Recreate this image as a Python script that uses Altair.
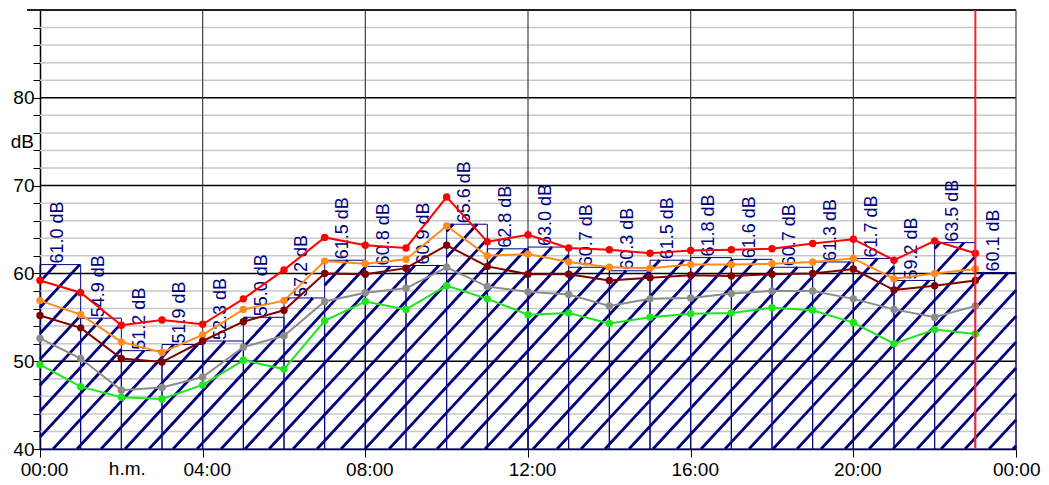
import altair as alt
import pandas as pd

# ---------------- data ----------------
hours = list(range(24))
bar_values = [61.0, 54.9, 51.2, 51.9, 52.3, 55.0, 57.2, 61.5, 60.8, 60.9, 65.6, 62.8,
              63.0, 60.7, 60.3, 61.5, 61.8, 61.6, 60.7, 61.3, 61.7, 59.2, 63.5, 60.1]
red = [59.2, 57.8, 54.1, 54.7, 54.2, 57.1, 60.4, 64.1, 63.2, 62.9, 68.7, 63.6,
       64.4, 62.9, 62.7, 62.3, 62.6, 62.7, 62.8, 63.4, 63.9, 61.5, 63.7, 62.3]
orange = [56.9, 55.3, 52.2, 51.0, 53.0, 55.9, 56.9, 61.4, 61.1, 61.6, 65.4, 62.0,
          62.2, 61.3, 60.7, 60.6, 61.0, 61.0, 61.1, 61.3, 61.7, 59.4, 60.0, 60.5]
darkred = [55.2, 53.8, 50.3, 49.9, 52.3, 54.5, 55.8, 60.0, 59.9, 60.6, 63.2, 60.8,
           59.9, 59.9, 59.2, 59.5, 59.8, 59.7, 59.9, 60.0, 60.5, 58.1, 58.6, 59.2]
gray = [52.6, 50.3, 46.7, 47.0, 48.2, 51.6, 52.9, 56.8, 57.8, 58.3, 60.7, 58.5,
        57.9, 57.6, 56.3, 57.1, 57.2, 57.7, 58.0, 58.0, 57.1, 55.9, 55.0, 56.3]
green = [49.6, 47.1, 45.9, 45.7, 47.3, 50.1, 49.1, 54.6, 56.8, 55.9, 58.6, 57.1,
         55.3, 55.5, 54.3, 55.0, 55.4, 55.5, 56.1, 55.8, 54.4, 52.0, 53.6, 53.1]
series_names = ["green", "gray", "darkred", "orange", "red"]
series_colors = ["#1EE61E", "#8C8C8C", "#800000", "#FF8C1A", "#FF0000"]
x_tick_values = [0, 4, 8, 12, 16, 20, 24]
x_tick_labels = ["00:00", "04:00", "08:00", "12:00", "16:00", "20:00", "00:00"]
y_major = [50, 60, 70, 80]
y_minor = [v for v in range(42, 90, 2) if v % 10 != 0]
v_grid = [4, 8, 12, 16, 20, 24]
marker_hour = 23

# ---------------- layout ----------------
W, H = 976, 439
XMIN, XMAX, YMIN, YMAX = 0, 24, 40, 90
PXH = W / (XMAX - XMIN)
PXD = H / (YMAX - YMIN)
FONT = "Liberation Sans"
NAVY = "#000080"
AXFS = 19

xs = alt.Scale(domain=[XMIN, XMAX], nice=False, zero=False)
ys = alt.Scale(domain=[YMIN, YMAX], nice=False, zero=False)

label_map = "{" + ",".join(f"'{v}':'{l}'" for v, l in zip(x_tick_values, x_tick_labels)) + "}"
xaxis = alt.Axis(values=x_tick_values, labelExpr=f"{label_map}[''+datum.value]",
                 title=None, grid=False, tickSize=8, tickColor="black", tickWidth=1,
                 domainColor="black", domainWidth=1.5, labelFont=FONT, labelFontSize=AXFS,
                 labelColor="black", labelPadding=3, labelFlush=False, labelOverlap=False,
                 labelAlign={"condition": {"test": f"datum.value == {XMAX}", "value": "right"},
                             "value": "center"},
                 labelOffset={"condition": {"test": f"datum.value == {XMAX}", "value": 24},
                              "value": 4})
yaxis = alt.Axis(values=list(range(40, 91, 2)),
                 labelExpr="(datum.value % 10 == 0 && datum.value < 90) ? datum.label : ''",
                 title=None, grid=False, tickSize=7, tickColor="black", tickWidth=1,
                 domainColor="black", domainWidth=1.5, labelFont=FONT, labelFontSize=AXFS,
                 labelColor="black", labelPadding=-1, labelOverlap=False)


def X(f):
    return alt.X(f, type="quantitative", scale=xs, axis=xaxis)


def Y(f):
    return alt.Y(f, type="quantitative", scale=ys, axis=yaxis)


# ---------------- tables ----------------
minor_df = pd.DataFrame({"y": y_minor})
major_df = pd.DataFrame({"y": y_major})
vgrid_df = pd.DataFrame({"x": v_grid})
top_df = pd.DataFrame({"y": [YMAX]})

bars_df = pd.DataFrame({"h0": hours, "h1": [h + 1 for h in hours],
                        "base": [YMIN] * 24, "v": bar_values,
                        "xc": [h + 0.45 for h in hours],
                        "lab": [f"{v:.1f} dB" for v in bar_values]})

# hatch segments clipped to each bar (derived from bar values)
slope, spacing, phase = 1.08, 24.0, 13.0
segs = []
for i, v in enumerate(bar_values):
    x0, x1 = i * PXH, (i + 1) * PXH
    T = (v - YMIN) * PXD
    for k in range(-60, 80):
        c = phase + spacing * k
        a = max(x0, c)
        b = min(x1, c + T / slope)
        if b > a + 0.05:
            segs.append({"xa": a / PXH, "ya": YMIN + slope * (a - c) / PXD,
                         "xb": b / PXH, "yb": YMIN + slope * (b - c) / PXD})
hatch_df = pd.DataFrame(segs)

rows = []
for name, vals in zip(["red", "orange", "darkred", "gray", "green"],
                      [red, orange, darkred, gray, green]):
    for h, v in zip(hours, vals):
        rows.append({"s": name, "h": h, "v": v, "o": series_names.index(name)})
lines_df = pd.DataFrame(rows)
cscale = alt.Scale(domain=series_names, range=series_colors)

# ---------------- layers ----------------
minor = alt.Chart(minor_df).mark_rule(color="#C8C8C8", strokeWidth=1.5).encode(
    y=Y("y"), x=alt.value(0), x2=alt.value(W))
major = alt.Chart(major_df).mark_rule(color="black", strokeWidth=1.5).encode(
    y=Y("y"), x=alt.value(0), x2=alt.value(W))
vgrid = alt.Chart(vgrid_df).mark_rule(color="#404040", strokeWidth=1.2).encode(
    x=X("x"), y=alt.value(0), y2=alt.value(H))
top = alt.Chart(top_df).mark_rule(color="#202020", strokeWidth=1.8).encode(
    y=Y("y"), x=alt.value(-13), x2=alt.value(W))

hatch = alt.Chart(hatch_df).mark_rule(color=NAVY, strokeWidth=2.8, strokeCap="butt").encode(
    x=X("xa"), y=Y("ya"), x2="xb", y2="yb")
bars = alt.Chart(bars_df).mark_rect(fillOpacity=0, stroke=NAVY, strokeWidth=1).encode(
    x=X("h0"), x2="h1", y=Y("base"), y2="v")
labels = alt.Chart(bars_df).mark_text(angle=270, align="left", baseline="middle",
                                      font=FONT, fontSize=18, color=NAVY, dx=1).encode(
    x=X("xc"), y=Y("v"), text="lab")

lines = alt.Chart(lines_df).mark_line(strokeWidth=2).encode(
    x=X("h"), y=Y("v"), color=alt.Color("s:N", scale=cscale, legend=None),
    order="o:Q")
points = alt.Chart(lines_df).mark_point(filled=True, size=55, opacity=1).encode(
    x=X("h"), y=Y("v"), color=alt.Color("s:N", scale=cscale, legend=None))

marker = alt.Chart(pd.DataFrame({"x": [marker_hour]})).mark_rule(
    color="#FF2020", strokeWidth=2).encode(x=X("x"), y=alt.value(0), y2=alt.value(H))

db_text = alt.Chart(pd.DataFrame({"y": [75], "t": ["dB"]})).mark_text(
    align="right", baseline="middle", font=FONT, fontSize=AXFS, color="black").encode(
    x=alt.value(-6), y=Y("y"), text="t")
hm_text = alt.Chart(pd.DataFrame({"x": [2], "t": ["h.m."]})).mark_text(
    align="center", baseline="top", font=FONT, fontSize=AXFS, color="black", dx=6).encode(
    x=X("x"), y=alt.value(H + 11), text="t")

chart = alt.layer(minor, major, vgrid, top, hatch, bars, labels, lines, points,
                  marker, db_text, hm_text).properties(
    width=W, height=H,
    autosize=alt.AutoSizeParams(type="none"),
    padding={"left": 32, "top": 2, "right": 25, "bottom": 34},
    background="white",
).configure_view(strokeWidth=0)

chart.save("out.html", embed_options={"renderer": "svg", "actions": False})
